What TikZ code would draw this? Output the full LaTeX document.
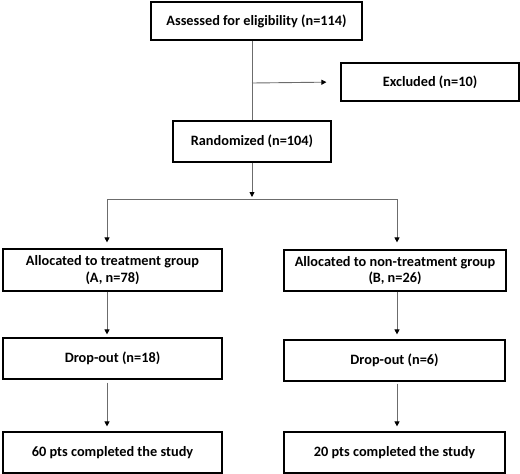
\documentclass[tikz,border=0pt]{standalone}
\usepackage{fontspec}
\setmainfont{Carlito}
\usetikzlibrary{arrows.meta}
\begin{document}
\begin{tikzpicture}[x=1pt,y=-1pt,
  box/.style={draw=black, line width=1.2pt, fill=white, rectangle, inner sep=0pt,
    align=center, font=\fontsize{14.3}{16.5}\selectfont\bfseries},
  conn/.style={draw=gray!85!black, line width=0.9pt},
  arr/.style={conn, -{Triangle[width=5pt,length=5pt,color=black]}}]
\useasboundingbox (0,0) rectangle (520,474);
\node[box, minimum width=211pt, minimum height=38pt] (assess) at (256.5,21) {Assessed for eligibility (n=114)};
\node[box, minimum width=178pt, minimum height=38pt] (excl) at (430,82) {Excluded (n=10)};
\node[box, minimum width=158pt, minimum height=41pt] (rand) at (252,141.5) {Randomized (n=104)};
\node[box, minimum width=219pt, minimum height=42pt] (allocA) at (112.5,270) {Allocated to treatment group\\(A, n=78)};
\node[box, minimum width=222pt, minimum height=41pt] (allocB) at (395,270.5) {Allocated to non-treatment group\\(B, n=26)};
\node[box, minimum width=219pt, minimum height=41pt] (dropA) at (112.5,358.5) {Drop-out (n=18)};
\node[box, minimum width=221pt, minimum height=41pt] (dropB) at (394.5,360.5) {Drop-out (n=6)};
\node[box, minimum width=219pt, minimum height=41pt] (compA) at (112.5,452.5) {60 pts completed the study};
\node[box, minimum width=221pt, minimum height=41pt] (compB) at (394.5,452.5) {20 pts completed the study};
\coordinate (br) at (252,83);
\coordinate (split) at (252,199);
\coordinate (sA) at (107,199);
\coordinate (sB) at (397,199);
\draw[conn] (assess.south -| rand.center) -- (rand.north);
\draw[arr, shorten >=14pt] (br) -- (excl.west);
\draw[arr, shorten >=2pt] (rand.south) -- (split);
\draw[conn] (sA) -- (sB);
\draw[arr, shorten >=6pt] (sA) -- (sA |- allocA.north);
\draw[arr, shorten >=7pt] (sB) -- (sB |- allocB.north);
\draw[arr, shorten >=3pt] (sA |- allocA.south) -- (sA |- dropA.north);
\draw[arr, shorten >=5pt] (sB |- allocB.south) -- (sB |- dropB.north);
\draw[arr, shorten <=3pt, shorten >=5pt] (sA |- dropA.south) -- (sA |- compA.north);
\draw[arr, shorten <=2pt, shorten >=5pt] (sB |- dropB.south) -- (sB |- compB.north);
\end{tikzpicture}
\end{document}
